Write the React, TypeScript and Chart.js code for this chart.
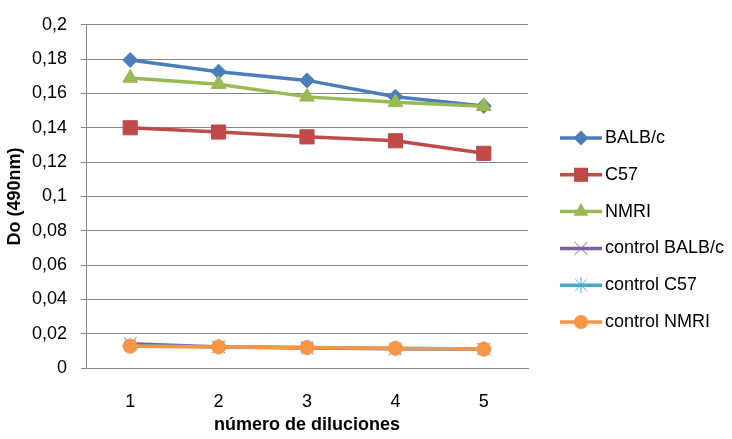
import React, { useEffect, useRef } from "react";
import { Chart, registerables } from "chart.js";
Chart.register(...registerables);

const categories = ["1", "2", "3", "4", "5"];
const balbc = [0.1795, 0.1727, 0.1676, 0.1581, 0.1527];
const c57 = [0.14, 0.1375, 0.1347, 0.1324, 0.1251];
const nmri = [0.169, 0.1654, 0.158, 0.1548, 0.1525];
const controlBalbc = [0.0142, 0.0123, 0.0117, 0.0112, 0.011];
const controlC57 = [0.013, 0.0124, 0.0119, 0.0114, 0.011];
const controlNmri = [0.0127, 0.0123, 0.0119, 0.0115, 0.011];
const seriesNames = ["BALB/c", "C57", "NMRI", "control BALB/c", "control C57", "control NMRI"];
const seriesValues = [balbc, c57, nmri, controlBalbc, controlC57, controlNmri];
const seriesColors = ["#4A7EBB", "#BE4B48", "#98B954", "#7D60A0", "#46AAC5", "#F79646"];
const seriesMarkers = ["rectRot", "rect", "triangle", "crossRot", "star", "circle"];
const markerRadius = [7.5, 10, 8.5, 9, 8, 7];
const yMin = 0;
const yMax = 0.2;
const yStep = 0.02;
const yTitle = "Do (490nm)";
const xTitle = "número de diluciones";

const FONT = "'Liberation Sans', Arial, sans-serif";

function drawMarker(ctx: CanvasRenderingContext2D, style: string, x: number, y: number, r: number, color: string) {
  ctx.save();
  ctx.fillStyle = color;
  ctx.strokeStyle = color;
  ctx.lineWidth = 1;
  ctx.beginPath();
  if (style === "rectRot") {
    ctx.moveTo(x, y - r); ctx.lineTo(x + r, y); ctx.lineTo(x, y + r); ctx.lineTo(x - r, y); ctx.closePath(); ctx.fill();
  } else if (style === "rect") {
    const s = r * Math.SQRT1_2;
    ctx.rect(x - s, y - s, 2 * s, 2 * s); ctx.fill();
  } else if (style === "triangle") {
    ctx.moveTo(x, y - r); ctx.lineTo(x + r * 0.866, y + r / 2); ctx.lineTo(x - r * 0.866, y + r / 2); ctx.closePath(); ctx.fill();
  } else if (style === "crossRot") {
    const s = r * Math.SQRT1_2;
    ctx.moveTo(x - s, y - s); ctx.lineTo(x + s, y + s); ctx.moveTo(x + s, y - s); ctx.lineTo(x - s, y + s); ctx.stroke();
  } else if (style === "star") {
    const s = r * Math.SQRT1_2;
    ctx.moveTo(x - s, y - s); ctx.lineTo(x + s, y + s); ctx.moveTo(x + s, y - s); ctx.lineTo(x - s, y + s);
    ctx.moveTo(x, y - r); ctx.lineTo(x, y + r); ctx.stroke();
  } else {
    ctx.arc(x, y, r, 0, Math.PI * 2); ctx.fill();
  }
  ctx.restore();
}

const legendPlugin = {
  id: "customLegend",
  afterDraw(chart: any) {
    const ctx = chart.ctx as CanvasRenderingContext2D;
    const area = chart.chartArea;
    const x0 = area.right + 32;
    const x1 = x0 + 42;
    const startY = 138;
    const gap = 36.8;
    ctx.save();
    seriesNames.forEach((name, i) => {
      const y = startY + i * gap;
      ctx.strokeStyle = seriesColors[i];
      ctx.lineWidth = 3.5;
      ctx.beginPath();
      ctx.moveTo(x0, y);
      ctx.lineTo(x1, y);
      ctx.stroke();
      drawMarker(ctx, seriesMarkers[i], (x0 + x1) / 2, y, markerRadius[i], seriesColors[i]);
      ctx.fillStyle = "#000";
      ctx.font = `18px ${FONT}`;
      ctx.textBaseline = "middle";
      ctx.textAlign = "left";
      ctx.fillText(name, x1 + 3, y);
    });
    ctx.restore();
  },
};

export default function App() {
  const ref = useRef<HTMLCanvasElement>(null);
  useEffect(() => {
    if (!ref.current) return;
    const chart = new Chart(ref.current, {
      type: "line",
      data: {
        labels: categories,
        datasets: seriesNames.map((name, i) => ({
          label: name,
          data: seriesValues[i],
          borderColor: seriesColors[i],
          backgroundColor: seriesColors[i],
          pointBackgroundColor: seriesColors[i],
          pointBorderColor: seriesColors[i],
          pointStyle: seriesMarkers[i] as any,
          pointRadius: markerRadius[i],
          pointBorderWidth: 1,
          borderWidth: 3.5,
          tension: 0,
          order: seriesNames.length - i,
        })),
      },
      options: {
        animation: false,
        responsive: true,
        maintainAspectRatio: false,
        layout: { padding: { top: 22, right: 204, left: 0, bottom: 0 } },
        plugins: { legend: { display: false }, tooltip: { enabled: false } },
        scales: {
          x: {
            offset: true,
            grid: { display: false },
            border: { display: true, color: "#868686", width: 1 },
            ticks: { color: "#000", font: { family: FONT, size: 18 }, padding: 15 },
            title: { display: true, text: xTitle, color: "#000", font: { family: FONT, size: 18, weight: "bold" }, padding: { top: 0, bottom: 3 } },
            afterFit: (s: any) => { s.height = 71; },
          },
          y: {
            min: yMin,
            max: yMax,
            grid: { color: "#868686", lineWidth: 1, drawTicks: true, tickLength: 5 },
            border: { display: true, color: "#868686", width: 1 },
            ticks: {
              stepSize: yStep,
              color: "#000",
              font: { family: FONT, size: 18 },
              padding: 14,
              callback: (v: any) => String(Number(Number(v).toFixed(2))).replace(".", ","),
            },
            title: { display: true, text: yTitle, color: "#000", font: { family: FONT, size: 18, weight: "bold" }, padding: { top: 4, bottom: 0 } },
            afterFit: (s: any) => { s.width = 86; },
          },
        },
      },
      plugins: [legendPlugin],
    } as any);
    return () => chart.destroy();
  }, []);
  return (
    <div style={{ position: "absolute", left: 0, top: 0, width: 732, height: 439, background: "#fff" }}>
      <canvas ref={ref} />
    </div>
  );
}
